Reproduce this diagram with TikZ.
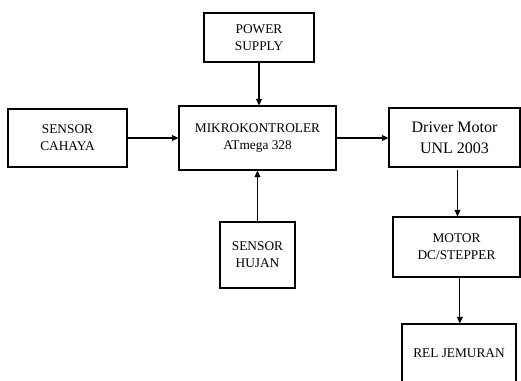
\documentclass[tikz,border=0pt]{standalone}
\usepackage{fontspec}
\setmainfont{Liberation Serif}
\usepackage{tikz}
\usetikzlibrary{arrows.meta,positioning}

\begin{document}
\begin{tikzpicture}[
  x=0.75pt,y=-0.75pt,
  blok/.style={draw=black,line width=0.8pt,fill=white,inner sep=0pt,align=center,font=\rmfamily\fontsize{10}{12.75}\selectfont},
  besar/.style={blok,font=\rmfamily\fontsize{12}{15.5}\selectfont},
  panah/.style={-{Triangle[length=5pt,width=4.5pt]},draw=black,line width=0.8pt}
]
\useasboundingbox (0,0) rectangle (521,381);
\clip (0,0) rectangle (521,381);
\node[blok,minimum width=82.5pt,minimum height=36.75pt] (power) at (259,37.5) {POWER\\SUPPLY};
\node[blok,minimum width=89.25pt,minimum height=43.5pt] (cahaya) at (67.5,138) {SENSOR\\CAHAYA};
\node[blok,minimum width=117.75pt,minimum height=48pt] (mikro) at (257.5,138) {MIKROKONTROLER\\ATmega 328};
\node[besar,minimum width=98.25pt,minimum height=44.25pt] (driver) at (454.5,137.5) {Driver Motor\\UNL 2003};
\node[blok,minimum width=56.25pt,minimum height=49.5pt] (hujan) at (257.5,255) {SENSOR\\HUJAN};
\node[blok,minimum width=95.25pt,minimum height=45pt] (motor) at (456.5,247) {MOTOR\\DC/STEPPER};
\node[blok,minimum width=85.5pt,minimum height=43.5pt] (rel) at (459,353) {REL JEMURAN};
\draw[panah] (power.south) -- (power.south |- mikro.north);
\draw[panah] (cahaya.east |- mikro.west) -- (mikro.west);
\draw[panah] (mikro.east) -- (mikro.east -| driver.west);
\draw[panah] (hujan.north) -- (hujan.north |- mikro.south);
\draw[panah] ([xshift=2.25pt,yshift=-2pt]driver.south) -- ([xshift=2.25pt]driver.south |- motor.north);
\draw[panah] ([xshift=2.5pt]motor.south) -- ([xshift=2.5pt]motor.south |- rel.north);
\end{tikzpicture}
\end{document}
